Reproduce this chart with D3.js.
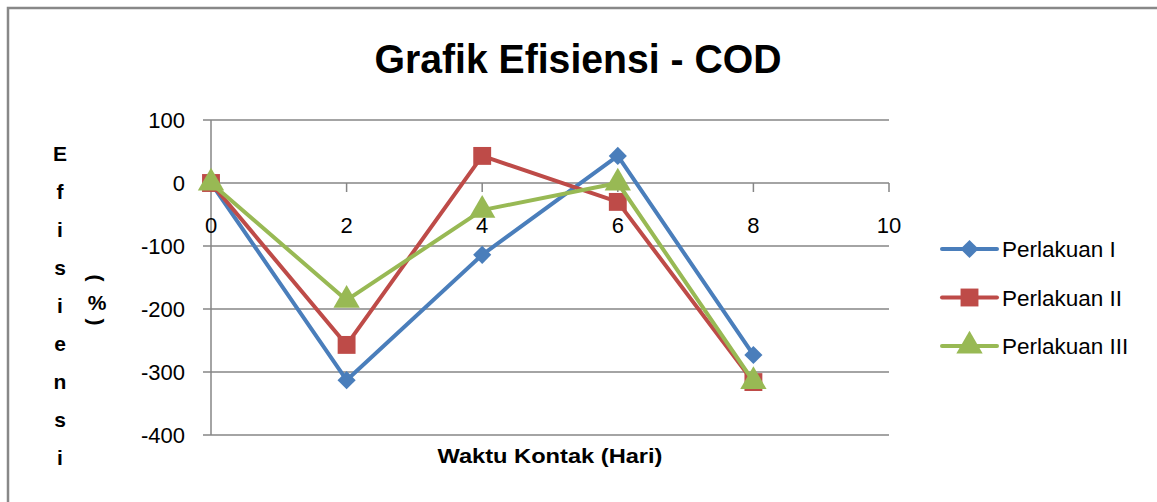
<!DOCTYPE html>
<html>
<head>
<meta charset="utf-8">
<script src="https://cdn.jsdelivr.net/npm/d3@7"></script>
<style>
  body { margin: 0; background: #fff; }
  text { font-family: "Liberation Sans", Arial, sans-serif; fill: #000; }
</style>
</head>
<body>
<div id="chart"></div>
<script>
// data
var days = [0, 2, 4, 6, 8];
var perlakuanI = [0, -313, -114, 43, -273];
var perlakuanII = [0, -257, 43, -30, -316];
var perlakuanIII = [0, -186, -43, 0, -315];
var seriesNames = ["Perlakuan I", "Perlakuan II", "Perlakuan III"];
var xTicks = [0, 2, 4, 6, 8, 10];
var yTicks = [100, 0, -100, -200, -300, -400];
var yLetters = ["E", "f", "i", "s", "i", "e", "n", "s", "i"];

var W = 1157, H = 502;
var svg = d3.select("#chart").append("svg")
    .attr("width", W)
    .attr("height", H);

// outer frame (top and left only visible)
svg.append("path")
    .attr("d", "M8,502 V8 H1157")
    .attr("fill", "none")
    .attr("stroke", "#888")
    .attr("stroke-width", 2.5);

var x = d3.scaleLinear().domain([0, 10]).range([211, 889]);
var y = d3.scaleLinear().domain([-400, 100]).range([435, 120]);

var gridColor = "#868686";

// gridlines
svg.append("g").selectAll("line")
  .data(yTicks)
  .enter().append("line")
    .attr("x1", x(0) - 8)
    .attr("x2", x(10))
    .attr("y1", function(d) { return y(d); })
    .attr("y2", function(d) { return y(d); })
    .attr("stroke", gridColor)
    .attr("stroke-width", 1.5);

// y axis line
svg.append("line")
    .attr("x1", x(0)).attr("x2", x(0))
    .attr("y1", y(100)).attr("y2", y(-400))
    .attr("stroke", gridColor)
    .attr("stroke-width", 1.5);

// x ticks hanging from the zero line
svg.append("g").selectAll("line")
  .data(xTicks.slice(1))
  .enter().append("line")
    .attr("x1", function(d) { return x(d); })
    .attr("x2", function(d) { return x(d); })
    .attr("y1", y(0))
    .attr("y2", y(0) + 9)
    .attr("stroke", gridColor)
    .attr("stroke-width", 1.5);

// y tick labels
svg.append("g").selectAll("text")
  .data(yTicks)
  .enter().append("text")
    .attr("x", 185)
    .attr("y", function(d) { return y(d); })
    .attr("dy", "0.36em")
    .attr("text-anchor", "end")
    .style("font-size", "22px")
    .text(function(d) { return d; });

// x tick labels
svg.append("g").selectAll("text")
  .data(xTicks)
  .enter().append("text")
    .attr("x", function(d) { return x(d); })
    .attr("y", 233)
    .attr("text-anchor", "middle")
    .style("font-size", "22px")
    .text(function(d) { return d; });

// title
svg.append("text")
    .attr("x", 578)
    .attr("y", 73)
    .attr("text-anchor", "middle")
    .attr("textLength", 407)
    .attr("lengthAdjust", "spacingAndGlyphs")
    .style("font-size", "40px")
    .style("font-weight", "bold")
    .text("Grafik Efisiensi - COD");

// x axis title
svg.append("text")
    .attr("x", 550)
    .attr("y", 463)
    .attr("text-anchor", "middle")
    .attr("textLength", 225)
    .attr("lengthAdjust", "spacingAndGlyphs")
    .style("font-size", "21px")
    .style("font-weight", "bold")
    .text("Waktu Kontak (Hari)");

// y axis title, stacked letters
svg.append("g").selectAll("text")
  .data(yLetters)
  .enter().append("text")
    .attr("x", 60)
    .attr("y", function(d, i) { return 153 + i * 38; })
    .attr("dy", "0.36em")
    .attr("text-anchor", "middle")
    .style("font-size", "21px")
    .style("font-weight", "bold")
    .text(function(d) { return d; });

var pct = svg.append("g").style("font-size", "21px").style("font-weight", "bold");
pct.append("text")
    .attr("transform", "translate(97,278) rotate(90)")
    .attr("dy", "0.36em")
    .attr("text-anchor", "middle")
    .text("(");
pct.append("text")
    .attr("x", 97).attr("y", 302)
    .attr("dy", "0.36em")
    .attr("text-anchor", "middle")
    .text("%");
pct.append("text")
    .attr("transform", "translate(97,322) rotate(90)")
    .attr("dy", "0.36em")
    .attr("text-anchor", "middle")
    .text(")");

// series
var series = [
  { name: seriesNames[0], values: perlakuanI, color: "#4A7EBB", symbol: d3.symbolDiamond2, size: 210 },
  { name: seriesNames[1], values: perlakuanII, color: "#BE4B48", symbol: d3.symbolSquare, size: 320 },
  { name: seriesNames[2], values: perlakuanIII, color: "#98B954", symbol: d3.symbolTriangle, size: 300 }
];

var line = d3.line()
    .x(function(d) { return x(d[0]); })
    .y(function(d) { return y(d[1]); });

series.forEach(function(s) {
  var pts = days.map(function(d, i) { return [d, s.values[i]]; });
  var g = svg.append("g");
  g.append("path")
      .datum(pts)
      .attr("d", line)
      .attr("fill", "none")
      .attr("stroke", s.color)
      .attr("stroke-width", 4)
      .attr("stroke-linejoin", "round");
  g.selectAll("path.m")
    .data(pts)
    .enter().append("path")
      .attr("class", "m")
      .attr("transform", function(d) { return "translate(" + x(d[0]) + "," + y(d[1]) + ")"; })
      .attr("d", d3.symbol().type(s.symbol).size(s.size))
      .attr("fill", s.color);
});

// legend
var legend = svg.append("g");
series.forEach(function(s, i) {
  var ly = 249 + i * 48.5;
  legend.append("line")
      .attr("x1", 942).attr("x2", 997)
      .attr("y1", ly).attr("y2", ly)
      .attr("stroke", s.color)
      .attr("stroke-width", 4)
      .attr("stroke-linecap", "round");
  legend.append("path")
      .attr("transform", "translate(969.5," + ly + ")")
      .attr("d", d3.symbol().type(s.symbol).size(s.size))
      .attr("fill", s.color);
  legend.append("text")
      .attr("x", 1002)
      .attr("y", ly)
      .attr("dy", "0.36em")
      .style("font-size", "22.5px")
      .text(s.name);
});
</script>
</body>
</html>
